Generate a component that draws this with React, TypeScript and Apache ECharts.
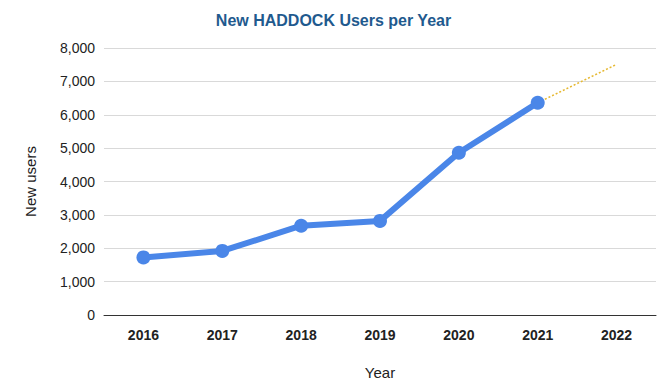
import React, { useEffect, useRef } from "react";
import * as echarts from "echarts";

const years = ["2016", "2017", "2018", "2019", "2020", "2021", "2022"];
const newUsers = [1725, 1920, 2675, 2820, 4860, 6360, null];
const trend = [null, null, null, null, null, 6360, 7510];

export default function App() {
  const ref = useRef<HTMLDivElement>(null);
  useEffect(() => {
    if (!ref.current) return;
    const chart = echarts.init(ref.current, null, { renderer: "svg" });
    const font = "Liberation Sans, Arial, sans-serif";
    chart.setOption({
      animation: false,
      backgroundColor: "#ffffff",
      title: {
        text: "New HADDOCK Users per Year",
        left: "center",
        top: 7,
        textStyle: { fontFamily: font, fontSize: 16, fontWeight: "bold", color: "#1f5a8e" },
      },
      grid: { left: 104, right: 11, top: 48, bottom: 67, outerBoundsMode: "none", containLabel: false },
      xAxis: {
        type: "category",
        data: years,
        boundaryGap: true,
        name: "Year",
        nameLocation: "middle",
        nameGap: 50,
        nameTextStyle: { fontFamily: font, fontSize: 15, color: "#222" },
        axisLine: { lineStyle: { color: "#333", width: 1 } },
        axisTick: { alignWithLabel: true, lineStyle: { color: "#333" }, length: 5 },
        axisLabel: { fontFamily: font, fontSize: 14, fontWeight: "bold", color: "#222", margin: 13 },
      },
      yAxis: {
        type: "value",
        min: 0,
        max: 8000,
        interval: 1000,
        name: "New users",
        nameLocation: "middle",
        nameGap: 66,
        nameTextStyle: { fontFamily: font, fontSize: 15, color: "#222" },
        axisLine: { show: false },
        axisTick: { show: false },
        splitLine: { lineStyle: { color: "#d9d9d9", width: 1 } },
        axisLabel: {
          fontFamily: font,
          fontSize: 14,
          color: "#222",
          margin: 9,
          formatter: (v: number) => v.toLocaleString("en-US"),
        },
      },
      series: [
        {
          type: "line",
          data: newUsers,
          symbol: "circle",
          symbolSize: 14,
          lineStyle: { color: "#4a86e8", width: 6 },
          itemStyle: { color: "#4a86e8" },
          z: 3,
        },
        {
          type: "line",
          data: trend,
          symbol: "none",
          lineStyle: { color: "#e6b830", width: 1.5, type: [2, 2] },
          z: 2,
        },
      ],
    });
    return () => chart.dispose();
  }, []);
  return <div ref={ref} style={{ width: 667, height: 382, position: "absolute", left: 0, top: 0 }} />;
}
